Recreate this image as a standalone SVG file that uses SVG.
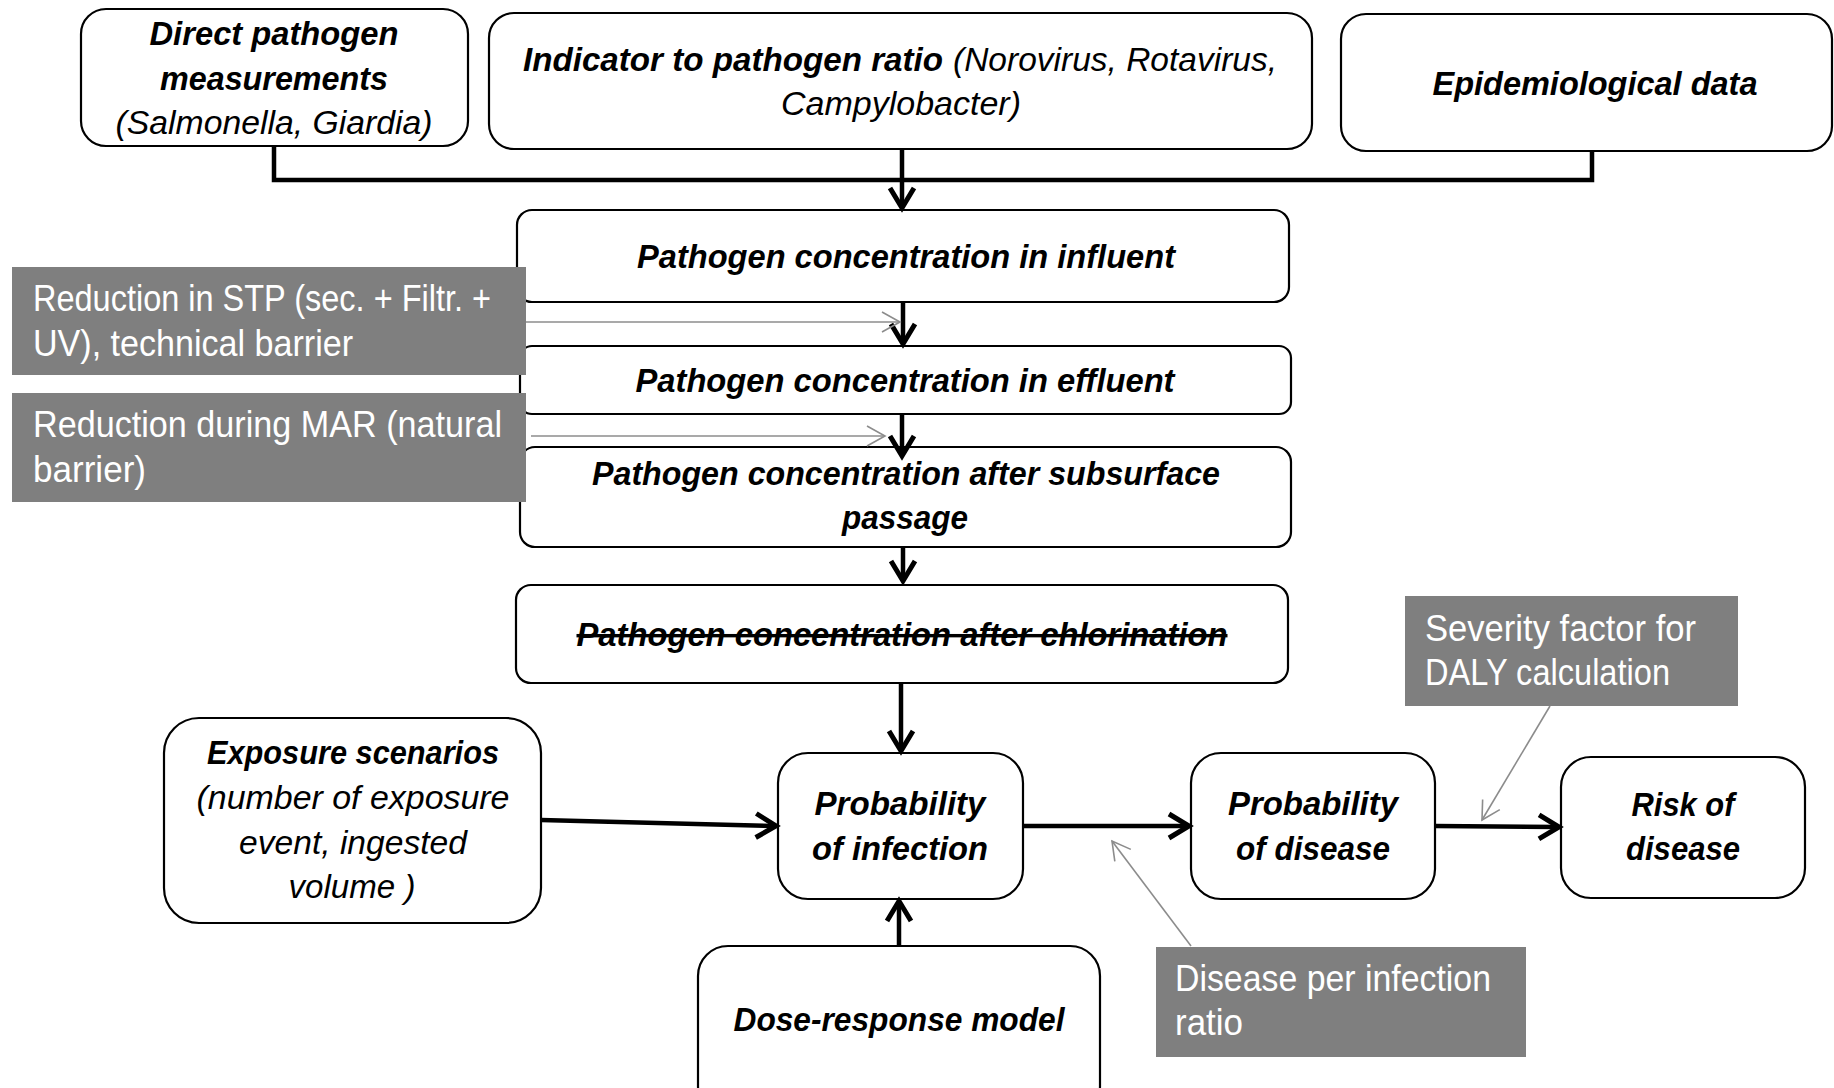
<svg xmlns="http://www.w3.org/2000/svg" width="1834" height="1088" viewBox="0 0 1834 1088">
<style>
.box{fill:#fff;stroke:#000;stroke-width:2.2}
.note{fill:#7f7f7f}
.bi{font-family:"Liberation Sans",Arial,sans-serif;font-weight:bold;font-style:italic;font-size:34px;fill:#000}
.it{font-family:"Liberation Sans",Arial,sans-serif;font-style:italic;font-size:34px;fill:#000}
.wt{font-family:"Liberation Sans",Arial,sans-serif;font-size:37px;fill:#fff}
.conn{fill:none;stroke:#000;stroke-width:4.5}
.gconn{fill:none;stroke:#8c8c8c;stroke-width:1.6}
</style>
<defs>
<marker id="ab" markerUnits="userSpaceOnUse" markerWidth="30" markerHeight="30" viewBox="-24 -15 28 30" refX="0" refY="0" orient="auto">
<path d="M-20,-12 L0,0 L-20,12" fill="none" stroke="#000" stroke-width="5" stroke-linejoin="miter"/>
</marker>
<marker id="ag" markerUnits="userSpaceOnUse" markerWidth="26" markerHeight="26" viewBox="-22 -13 24 26" refX="0" refY="0" orient="auto">
<path d="M-18,-10 L0,0 L-18,10" fill="none" stroke="#8c8c8c" stroke-width="1.6"/>
</marker>
</defs>

<g id="direct">
<rect class="box" x="81" y="9" width="387" height="137" rx="25"/>
<text class="bi" x="274" y="45" text-anchor="middle" textLength="249" lengthAdjust="spacingAndGlyphs">Direct pathogen</text>
<text class="bi" x="274" y="90" text-anchor="middle" textLength="228" lengthAdjust="spacingAndGlyphs">measurements</text>
<text class="it" x="274" y="134" text-anchor="middle" textLength="317" lengthAdjust="spacingAndGlyphs">(Salmonella, Giardia)</text>
</g>

<g id="indicator">
<rect class="box" x="489" y="13" width="823" height="136" rx="25"/>
<text class="bi" x="523" y="71" textLength="420" lengthAdjust="spacingAndGlyphs">Indicator to pathogen ratio</text>
<text class="it" x="953" y="71" textLength="324" lengthAdjust="spacingAndGlyphs">(Norovirus, Rotavirus,</text>
<text class="it" x="901" y="115" text-anchor="middle" textLength="240" lengthAdjust="spacingAndGlyphs">Campylobacter)</text>
</g>

<g id="epidemiological">
<rect class="box" x="1341" y="14" width="491" height="137" rx="25"/>
<text class="bi" x="1595" y="95" text-anchor="middle" textLength="325" lengthAdjust="spacingAndGlyphs">Epidemiological data</text>
</g>

<g id="influent">
<rect class="box" x="517" y="210" width="772" height="92" rx="15"/>
<text class="bi" x="906" y="268" text-anchor="middle" textLength="538" lengthAdjust="spacingAndGlyphs">Pathogen concentration in influent</text>
</g>

<g id="effluent">
<rect class="box" x="520" y="346" width="771" height="68" rx="12"/>
<text class="bi" x="905" y="392" text-anchor="middle" textLength="539" lengthAdjust="spacingAndGlyphs">Pathogen concentration in effluent</text>
</g>

<g id="subsurface">
<rect class="box" x="520" y="447" width="771" height="100" rx="15"/>
<text class="bi" x="906" y="485" text-anchor="middle" textLength="628" lengthAdjust="spacingAndGlyphs">Pathogen concentration after subsurface</text>
<text class="bi" x="905" y="529" text-anchor="middle" textLength="126" lengthAdjust="spacingAndGlyphs">passage</text>
</g>

<g id="chlorination">
<rect class="box" x="516" y="585" width="772" height="98" rx="15"/>
<text class="bi" x="902" y="646" text-anchor="middle" textLength="651" lengthAdjust="spacingAndGlyphs" text-decoration="line-through">Pathogen concentration after chlorination</text>
</g>

<g id="exposure">
<rect class="box" x="164" y="718" width="377" height="205" rx="35"/>
<text class="bi" x="353" y="764" text-anchor="middle" textLength="292" lengthAdjust="spacingAndGlyphs">Exposure scenarios</text>
<text class="it" x="353" y="809" text-anchor="middle" textLength="313" lengthAdjust="spacingAndGlyphs">(number of exposure</text>
<text class="it" x="353" y="854" text-anchor="middle" textLength="228" lengthAdjust="spacingAndGlyphs">event, ingested</text>
<text class="it" x="352" y="898" text-anchor="middle" textLength="127" lengthAdjust="spacingAndGlyphs">volume )</text>
</g>

<g id="infection">
<rect class="box" x="778" y="753" width="245" height="146" rx="30"/>
<text class="bi" x="900" y="815" text-anchor="middle" textLength="171" lengthAdjust="spacingAndGlyphs">Probability</text>
<text class="bi" x="900" y="860" text-anchor="middle" textLength="176" lengthAdjust="spacingAndGlyphs">of infection</text>
</g>

<g id="disease">
<rect class="box" x="1191" y="753" width="244" height="146" rx="30"/>
<text class="bi" x="1313" y="815" text-anchor="middle" textLength="170" lengthAdjust="spacingAndGlyphs">Probability</text>
<text class="bi" x="1313" y="860" text-anchor="middle" textLength="154" lengthAdjust="spacingAndGlyphs">of disease</text>
</g>

<g id="risk">
<rect class="box" x="1561" y="757" width="244" height="141" rx="30"/>
<text class="bi" x="1683" y="816" text-anchor="middle" textLength="103" lengthAdjust="spacingAndGlyphs">Risk of</text>
<text class="bi" x="1683" y="860" text-anchor="middle" textLength="114" lengthAdjust="spacingAndGlyphs">disease</text>
</g>

<g id="dose">
<rect class="box" x="698" y="946" width="402" height="170" rx="30"/>
<text class="bi" x="899" y="1031" text-anchor="middle" textLength="331" lengthAdjust="spacingAndGlyphs">Dose-response model</text>
</g>

<g id="connectors">
<path class="conn" d="M274,147 V180 H1592 V151" stroke-width="5.5"/>
<path class="conn" d="M902,150 V208" marker-end="url(#ab)"/>
<path class="conn" d="M903,302 V344" marker-end="url(#ab)"/>
<path class="conn" d="M902,414 V456" marker-end="url(#ab)"/>
<path class="conn" d="M903,547 V581" marker-end="url(#ab)"/>
<path class="conn" d="M901,683 V751" marker-end="url(#ab)"/>
<path class="conn" d="M899,946 V901" marker-end="url(#ab)"/>
<path class="conn" d="M541,820 L776,826" marker-end="url(#ab)"/>
<path class="conn" d="M1023,826 L1189,826" marker-end="url(#ab)"/>
<path class="conn" d="M1435,826 L1559,827" marker-end="url(#ab)"/>
<path class="gconn" d="M526,322 L900,322" marker-end="url(#ag)"/>
<path class="gconn" d="M531,436 L885,436" marker-end="url(#ag)"/>
<path class="gconn" d="M1191,946 L1112,841" marker-end="url(#ag)"/>
<path class="gconn" d="M1550,706 L1482,820" marker-end="url(#ag)"/>
</g>

<g id="stp-reduction">
<rect class="note" x="12" y="267" width="514" height="108"/>
<text class="wt" x="33" y="311" textLength="458" lengthAdjust="spacingAndGlyphs">Reduction in STP (sec. + Filtr. +</text>
<text class="wt" x="33" y="356" textLength="320" lengthAdjust="spacingAndGlyphs">UV), technical barrier</text>
</g>

<g id="mar-reduction">
<rect class="note" x="12" y="393" width="514" height="109"/>
<text class="wt" x="33" y="437" textLength="469" lengthAdjust="spacingAndGlyphs">Reduction during MAR (natural</text>
<text class="wt" x="33" y="482" textLength="113" lengthAdjust="spacingAndGlyphs">barrier)</text>
</g>

<g id="severity">
<rect class="note" x="1405" y="596" width="333" height="110"/>
<text class="wt" x="1425" y="641" textLength="271" lengthAdjust="spacingAndGlyphs">Severity factor for</text>
<text class="wt" x="1425" y="685" textLength="245" lengthAdjust="spacingAndGlyphs">DALY calculation</text>
</g>

<g id="disease-ratio">
<rect class="note" x="1156" y="947" width="370" height="110"/>
<text class="wt" x="1175" y="991" textLength="316" lengthAdjust="spacingAndGlyphs">Disease per infection</text>
<text class="wt" x="1175" y="1035" textLength="68" lengthAdjust="spacingAndGlyphs">ratio</text>
</g>
</svg>
